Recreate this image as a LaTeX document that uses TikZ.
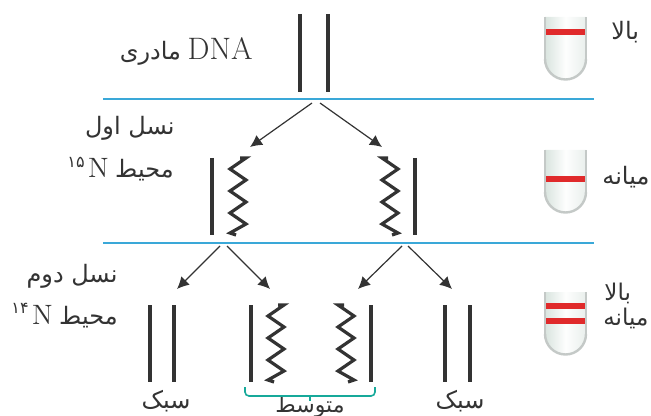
\documentclass[tikz,border=0pt]{standalone}
\usepackage{fontspec}
\newfontfamily\arabicfont[Script=Arabic]{DejaVu Sans}
\TeXXeTstate=1
\usepackage{tikz}
\usetikzlibrary{positioning}
\usetikzlibrary{arrows.meta}

\definecolor{ink}{HTML}{333333}
\definecolor{rulecol}{HTML}{3AA8D8}
\definecolor{bandred}{HTML}{E02A2B}
\definecolor{bracecol}{HTML}{17A99A}
\definecolor{tubeedge}{HTML}{C4C9C7}
\definecolor{tubeleft}{HTML}{D9E4DF}
\definecolor{tuberight}{HTML}{E9EFEC}

\tikzset{
  % test tube, origin at the top left corner
  tube/.pic = {
    \shade[left color=tubeleft, right color=tuberight, middle color=white!96!tubeleft]
      (0,0) -- (0,42) arc[start angle=180, end angle=0, radius=20.5] -- (41,0) -- cycle;
    \draw[tubeedge, line width=0.6pt] (0,0) -- (0,42);
    \draw[tubeedge, line width=0.6pt] (41,0) -- (41,42);
    \draw[tubeedge, line width=1.2pt] (0,42) arc[start angle=180, end angle=0, radius=20.5];
  },
  % new (light) strand, origin at the top stub
  zigzag/.pic = {
    \draw[zig] (-6,0) -- (0,0) -- (-16,11) -- (0,22) -- (-16,33) -- (0,44)
               -- (-16,55) -- (0,66) -- (-16,75) -- (-10,77);
  }
}

\begin{document}
\begin{tikzpicture}[ x = 0.5pt, y = -0.5pt
                     , >={Latex[width=6pt, length=6pt]}
                     , every node/.style = { inner sep = 0pt
                                           , text = ink }
                     , fa/.style = { font = \arabicfont\fontsize{12}{14}\selectfont }
                     , strand/.style = { draw = ink, line width = 2pt }
                     , zig/.style = { draw = ink, line width = 1.6pt }
                     , splitarrow/.style = { ->, draw = ink, line width = 0.6pt }
                     , sep/.style = { draw = rulecol, line width = 0.8pt }
                     , bandline/.style = { draw = bandred, line width = 2.6pt }
                     , bracket/.style = { draw = bracecol, line width = 0.8pt, rounded corners = 2pt }
                     ]
  \useasboundingbox (0,0) rectangle (651,416);

  %%
  %% Separators between the generations
  %%
  \draw[sep] (103,99) -- (594,99);
  \draw[sep] (103,243) -- (594,243);

  %%
  %% Strands
  %%
  % parent molecule
  \foreach \x in {300,328} \draw[strand] (\x,14) -- (\x,92);
  % first generation
  \foreach \x in {212,415} \draw[strand] (\x,158) -- (\x,235);
  \pic at (246,158) {zigzag};
  \pic[xscale=-1] at (382,158) {zigzag};
  % second generation
  \foreach \x in {150,174,251,371,445,470} \draw[strand] (\x,305) -- (\x,382);
  \pic at (284,305) {zigzag};
  \pic[xscale=-1] at (338,305) {zigzag};

  %%
  %% Replication arrows
  %%
  \coordinate (g0a) at (312,103);
  \coordinate (g0b) at (320,103);
  \coordinate (g1l) at (250,147);
  \coordinate (g1r) at (382,147);
  \coordinate (g1a) at (220,246);
  \coordinate (g1b) at (227,246);
  \coordinate (g1c) at (402,246);
  \coordinate (g1d) at (408,246);
  \coordinate (g2a) at (177,289);
  \coordinate (g2b) at (270,289);
  \coordinate (g2c) at (358,289);
  \coordinate (g2d) at (452,289);
  \draw[splitarrow] (g0a) -- (g1l);
  \draw[splitarrow] (g0b) -- (g1r);
  \draw[splitarrow] (g1a) -- (g2a);
  \draw[splitarrow] (g1b) -- (g2b);
  \draw[splitarrow] (g1c) -- (g2c);
  \draw[splitarrow] (g1d) -- (g2d);

  %%
  %% Tubes with their bands
  %%
  \pic at (545,17) {tube};
  \pic at (545,150) {tube};
  \pic at (545,292) {tube};
  \draw[bandline] (546,32) -- (585,32);
  \draw[bandline] (546,179) -- (585,179);
  \draw[bandline] (546,306) -- (585,306);
  \draw[bandline] (546,321) -- (585,321);

  %%
  %% Labels
  %%
  \node (parent) [anchor = base east] at (253,60)
    {\beginR\beginL{\fontsize{15.5}{18}\selectfont DNA}\endL{}\ {\arabicfont\fontsize{12}{14}\selectfont مادری}\endR};
  \node (gen1) [fa, anchor = base east] at (175,135) {\beginR نسل اول\endR};
  \node (env1) [anchor = base east] at (174,178)
    {\raisebox{1.2ex}{\arabicfont\fontsize{8}{9}\selectfont ۱۵}\,{\fontsize{14}{16}\selectfont N}\ {\arabicfont\fontsize{12}{14}\selectfont محیط}};
  \node (gen2) [fa, anchor = base east] at (118,282) {\beginR نسل دوم\endR};
  \node (env2) [anchor = base east] at (118,324)
    {\raisebox{1.2ex}{\arabicfont\fontsize{8}{9}\selectfont ۱۴}\,{\fontsize{14}{16}\selectfont N}\ {\arabicfont\fontsize{12}{14}\selectfont محیط}};

  \node (top1) [fa, anchor = base west] at (611,40) {بالا};
  \node (mid1) [fa, anchor = base west] at (602,185) {میانه};
  \node (top2) [fa, anchor = base west, font = \arabicfont\fontsize{11.5}{13}\selectfont] at (604,300) {بالا};
  \node (mid2) [fa, anchor = base west, font = \arabicfont\fontsize{11.5}{13}\selectfont] at (603,325) {میانه};

  \node (light1) [fa, anchor = base] at (166,408) {سبک};
  \node (light2) [fa, anchor = base] at (460,408) {سبک};
  \node (hybrid) [fa, anchor = base, font = \arabicfont\fontsize{11}{13}\selectfont] at (310,412) {متوسط};
  \draw[bracket] (245,387) -- (245,396) -- (375,396) -- (375,387);
  \draw[bracket] (310,396) -- (310,401);
\end{tikzpicture}
\end{document}
